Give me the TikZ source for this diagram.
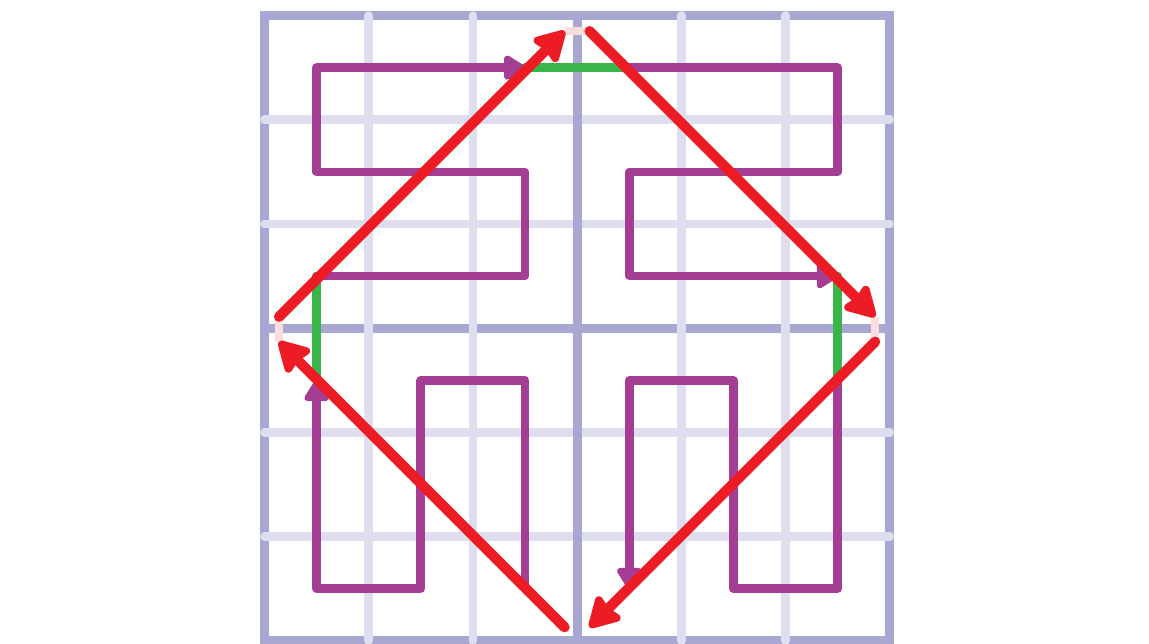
\documentclass[tikz,border=0pt]{standalone}
\usetikzlibrary{arrows.meta}
\definecolor{gridmain}{HTML}{A7A7D1}
\definecolor{gridlight}{HTML}{DEDEEE}
\definecolor{curvepurple}{HTML}{A33E94}
\definecolor{joingreen}{HTML}{39B54A}
\definecolor{hopred}{HTML}{ED1C24}
\definecolor{gappink}{HTML}{FADEDE}
\begin{document}
\begin{tikzpicture}[line cap=round,line join=round,
 mainline/.style={draw=gridmain,line width=2.5pt},
 thinline/.style={draw=gridlight,line width=2.35pt},
 curve/.style={draw=curvepurple,line width=2.35pt,-{Triangle[length=6.5pt,width=7.5pt,round]}},
 joinseg/.style={draw=joingreen,line width=2.35pt},
 hop/.style={draw=hopred,line width=2.8pt,-{Stealth[length=9.5pt,width=10.5pt,inset=1pt,round]}},
 gap/.style={draw=gappink,line width=2.35pt,line cap=butt}]
\useasboundingbox (-2.538,-0.022) rectangle (8.488,6.149);
\draw[mainline,line cap=butt,line join=miter] (0,0) rectangle (6,6);
\draw[mainline] (0,3) -- (6,3);
\draw[thinline] (1,0) -- (1,6) (2,0) -- (2,6) (4,0) -- (4,6) (5,0) -- (5,6)
 (0,1) -- (6,1) (0,2) -- (6,2) (0,4) -- (6,4) (0,5) -- (6,5);
\draw[mainline] (3,0) -- (3,6);
\draw[joinseg] (0.5,2.5) -- (0.5,3.5) (2.5,5.5) -- (3.5,5.5) (5.5,3.5) -- (5.5,2.5);
\draw[curve] (2.5,0.5) -- (2.5,2.5) -- (1.5,2.5) -- (1.5,0.5) -- (0.5,0.5) -- (0.5,2.5);
\draw[curve] (0.5,3.5) -- (2.5,3.5) -- (2.5,4.5) -- (0.5,4.5) -- (0.5,5.5) -- (2.5,5.5);
\draw[curve] (3.5,5.5) -- (5.5,5.5) -- (5.5,4.5) -- (3.5,4.5) -- (3.5,3.5) -- (5.5,3.5);
\draw[curve] (5.5,2.5) -- (5.5,0.5) -- (4.5,0.5) -- (4.5,2.5) -- (3.5,2.5) -- (3.5,0.5);
\coordinate (l1) at (0.14,3.11);
\coordinate (l2) at (0.14,2.87);
\coordinate (t1) at (2.88,5.85);
\coordinate (t2) at (3.12,5.85);
\coordinate (r1) at (5.86,3.11);
\coordinate (r2) at (5.86,2.87);
\coordinate (b1) at (3.12,0.13);
\coordinate (b2) at (2.88,0.13);
\draw[gap] (l2) -- (l1) (t1) -- (t2) (r1) -- (r2);
\draw[hop] (l1) -- (t1);
\draw[hop] (t2) -- (r1);
\draw[hop] (r2) -- (b1);
\draw[hop] (b2) -- (l2);
\end{tikzpicture}
\end{document}
